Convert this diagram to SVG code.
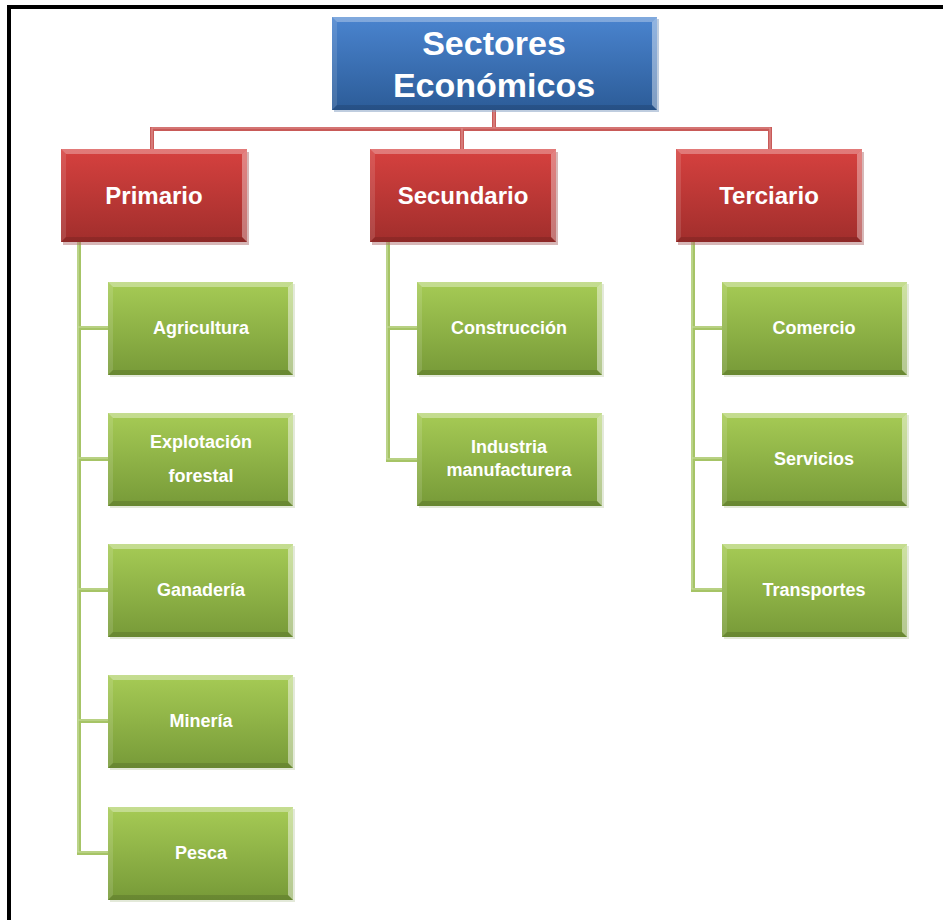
<svg xmlns="http://www.w3.org/2000/svg" xmlns:xlink="http://www.w3.org/1999/xlink" width="943" height="920" viewBox="0 0 943 920">
<defs>
<style>
.t{font-family:"Liberation Sans",Arial,sans-serif;font-weight:bold;fill:#fff;text-anchor:middle}
.tb{font-size:34px}
.tr{font-size:24px}
.tg{font-size:18px}
.cr{fill:none;stroke:#c85a58;stroke-width:4}
.cri{fill:none;stroke:#e0908e;stroke-width:1.2}
.cg{fill:none;stroke:#a6c466;stroke-width:4}
.cgi{fill:none;stroke:#c9dea0;stroke-width:1.2}
</style>
<linearGradient id="gBlue" x1="0" y1="0" x2="0" y2="1">
<stop offset="0" stop-color="#4a84cf"/><stop offset="1" stop-color="#2c5c98"/>
</linearGradient>
<linearGradient id="gRed" x1="0" y1="0" x2="0" y2="1">
<stop offset="0" stop-color="#d6413f"/><stop offset="1" stop-color="#a12e2c"/>
</linearGradient>
<linearGradient id="gGreen" x1="0" y1="0" x2="0" y2="1">
<stop offset="0" stop-color="#a6cb55"/><stop offset="1" stop-color="#779a38"/>
</linearGradient>
<g id="redBox">
<rect x="2" y="3" width="186" height="93" fill="#b07070" opacity="0.5"/>
<rect x="0" y="0" width="186" height="93" fill="url(#gRed)"/>
<polygon points="0,0 186,0 181,5 5,5" fill="#fff" opacity="0.3"/>
<polygon points="0,0 5,5 5,88 0,93" fill="#fff" opacity="0.12"/>
<polygon points="186,0 186,93 181,88 181,5" fill="#fff" opacity="0.35"/>
<polygon points="0,93 186,93 181,88 5,88" fill="#000" opacity="0.12"/>
</g>
<g id="greenBox">
<rect x="2" y="2" width="185" height="93" fill="#b8c8a0" opacity="0.4"/>
<rect x="0" y="0" width="185" height="93" fill="url(#gGreen)"/>
<polygon points="0,0 185,0 180,5 5,5" fill="#fff" opacity="0.35"/>
<polygon points="0,0 5,5 5,88 0,93" fill="#fff" opacity="0.12"/>
<polygon points="185,0 185,93 180,88 180,5" fill="#fff" opacity="0.45"/>
<polygon points="0,93 185,93 180,88 5,88" fill="#000" opacity="0.12"/>
</g>
</defs>
<rect width="943" height="920" fill="#fff"/>
<path d="M9,920 V7 H943" fill="none" stroke="#000" stroke-width="4"/>

<g id="connectors">
<path class="cr" d="M494,110 V129 M152,150 V129 H770 V150 M462,129 V150"/>
<path class="cri" d="M494,110 V128 M152,150 V128 H770 V150 M462,128 V150"/>
<path class="cg" d="M79,242 V853 H108 M79,328 H108 M79,459 H108 M79,590 H108 M79,721 H108"/>
<path class="cgi" d="M78,242 V852 H108 M78,327 H108 M78,458 H108 M78,589 H108 M78,720 H108"/>
<path class="cg" d="M388,242 V460 H417 M388,328 H417"/>
<path class="cgi" d="M387,242 V459 H417 M387,327 H417"/>
<path class="cg" d="M693,242 V590 H722 M693,328 H722 M693,459 H722"/>
<path class="cgi" d="M692,242 V589 H722 M692,327 H722 M692,458 H722"/>
</g>

<g id="root">
<rect x="334" y="19" width="325" height="93" fill="#7f9cc0" opacity="0.5"/>
<rect x="332" y="17" width="325" height="93" fill="url(#gBlue)"/>
<polygon points="332,17 657,17 652,22 337,22" fill="#fff" opacity="0.3"/>
<polygon points="332,17 337,22 337,105 332,110" fill="#fff" opacity="0.12"/>
<polygon points="657,17 657,110 652,105 652,22" fill="#fff" opacity="0.4"/>
<polygon points="332,110 657,110 652,105 337,105" fill="#000" opacity="0.12"/>
<text class="t tb" x="494" y="55">Sectores</text>
<text class="t tb" x="494" y="97">Económicos</text>
</g>

<g id="primario"><use xlink:href="#redBox" x="61" y="149"/><text class="t tr" x="154" y="204">Primario</text></g>
<g id="secundario"><use xlink:href="#redBox" x="370" y="149"/><text class="t tr" x="463" y="204">Secundario</text></g>
<g id="terciario"><use xlink:href="#redBox" x="676" y="149"/><text class="t tr" x="769" y="204">Terciario</text></g>

<g id="agricultura"><use xlink:href="#greenBox" x="108" y="282"/><text class="t tg" x="201" y="334">Agricultura</text></g>
<g id="explotacion"><use xlink:href="#greenBox" x="108" y="413"/><text class="t tg" x="201" y="448">Explotación</text><text class="t tg" x="201" y="482">forestal</text></g>
<g id="ganaderia"><use xlink:href="#greenBox" x="108" y="544"/><text class="t tg" x="201" y="596">Ganadería</text></g>
<g id="mineria"><use xlink:href="#greenBox" x="108" y="675"/><text class="t tg" x="201" y="727">Minería</text></g>
<g id="pesca"><use xlink:href="#greenBox" x="108" y="807"/><text class="t tg" x="201" y="859">Pesca</text></g>

<g id="construccion"><use xlink:href="#greenBox" x="417" y="282"/><text class="t tg" x="509" y="334">Construcción</text></g>
<g id="industria"><use xlink:href="#greenBox" x="417" y="413"/><text class="t tg" x="509" y="453">Industria</text><text class="t tg" x="509" y="476">manufacturera</text></g>

<g id="comercio"><use xlink:href="#greenBox" x="722" y="282"/><text class="t tg" x="814" y="334">Comercio</text></g>
<g id="servicios"><use xlink:href="#greenBox" x="722" y="413"/><text class="t tg" x="814" y="465">Servicios</text></g>
<g id="transportes"><use xlink:href="#greenBox" x="722" y="544"/><text class="t tg" x="814" y="596">Transportes</text></g>
</svg>
